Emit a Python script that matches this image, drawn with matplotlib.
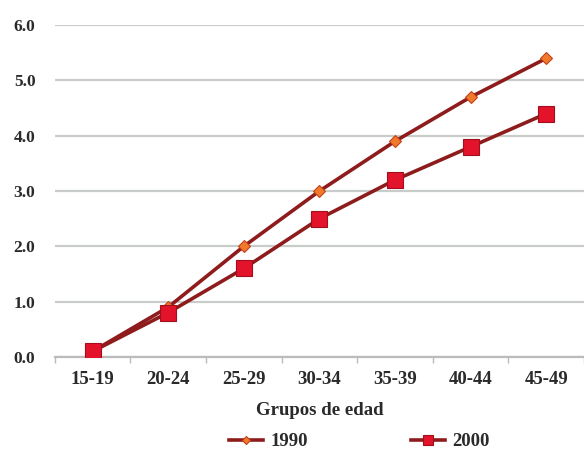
import matplotlib
matplotlib.use("Agg")
import matplotlib.pyplot as plt
import numpy as np

grupos = ["15-19", "20-24", "25-29", "30-34", "35-39", "40-44", "45-49"]
tasa_1990 = [0.1, 0.9, 2.0, 3.0, 3.9, 4.7, 5.4]
tasa_2000 = [0.1, 0.8, 1.6, 2.5, 3.2, 3.8, 4.4]
yticks = [0.0, 1.0, 2.0, 3.0, 4.0, 5.0, 6.0]

plt.rcParams["font.family"] = ["Liberation Serif", "DejaVu Serif"]
plt.rcParams["font.weight"] = "bold"

LINE = "#8e1c1c"
TXT = "#2a2a2a"

fig = plt.figure(figsize=(5.84, 4.5), dpi=100)
ax = fig.add_axes([0.094, 0.207, 0.906, 0.737])

x = np.arange(len(grupos))
ax.plot(x, tasa_1990, color=LINE, lw=2.6, marker="D", ms=6.5,
        mfc="#f07a2a", mec="#c2401a", mew=0.8, label="1990", zorder=3)
ax.plot(x, tasa_2000, color=LINE, lw=2.6, marker="s", ms=11,
        mfc="#e3132c", mec="#a0101c", mew=0.8, label="2000", zorder=4)

ax.set_xlim(-0.5, 6.46)
ax.set_ylim(0, 6.0)
ax.set_yticks(yticks)
ax.set_yticklabels([f"{v:.1f}" for v in yticks], fontsize=12.5, color=TXT)
ax.set_xticks(x)
ax.set_xticklabels(grupos, fontsize=13.5, color=TXT)
ax.set_xticks(np.arange(-0.5, 6.6, 1.0), minor=True)
ax.tick_params(axis="y", length=0, pad=14)
ax.tick_params(axis="x", which="major", length=0, pad=10)
ax.tick_params(axis="x", which="minor", length=4, color="#bbbbbb", width=1)

ax.grid(axis="y", color="#c9cdc9", lw=1.6)
ax.set_axisbelow(True)
for s in ["top", "right", "left"]:
    ax.spines[s].set_visible(False)
ax.spines["bottom"].set_color("#bbbbbb")
ax.spines["bottom"].set_linewidth(1.6)

ax.set_xlabel("Grupos de edad", fontsize=13.5, fontweight="bold",
              color=TXT, labelpad=10)

leg = fig.legend(loc="lower center", bbox_to_anchor=(0.615, -0.038), ncol=2,
                 frameon=False, fontsize=13.5, handlelength=1.8,
                 columnspacing=5.5, handletextpad=0.4, markerscale=0.6)
for t in leg.get_texts():
    t.set_color(TXT)

fig.savefig("out.png", dpi=100)
